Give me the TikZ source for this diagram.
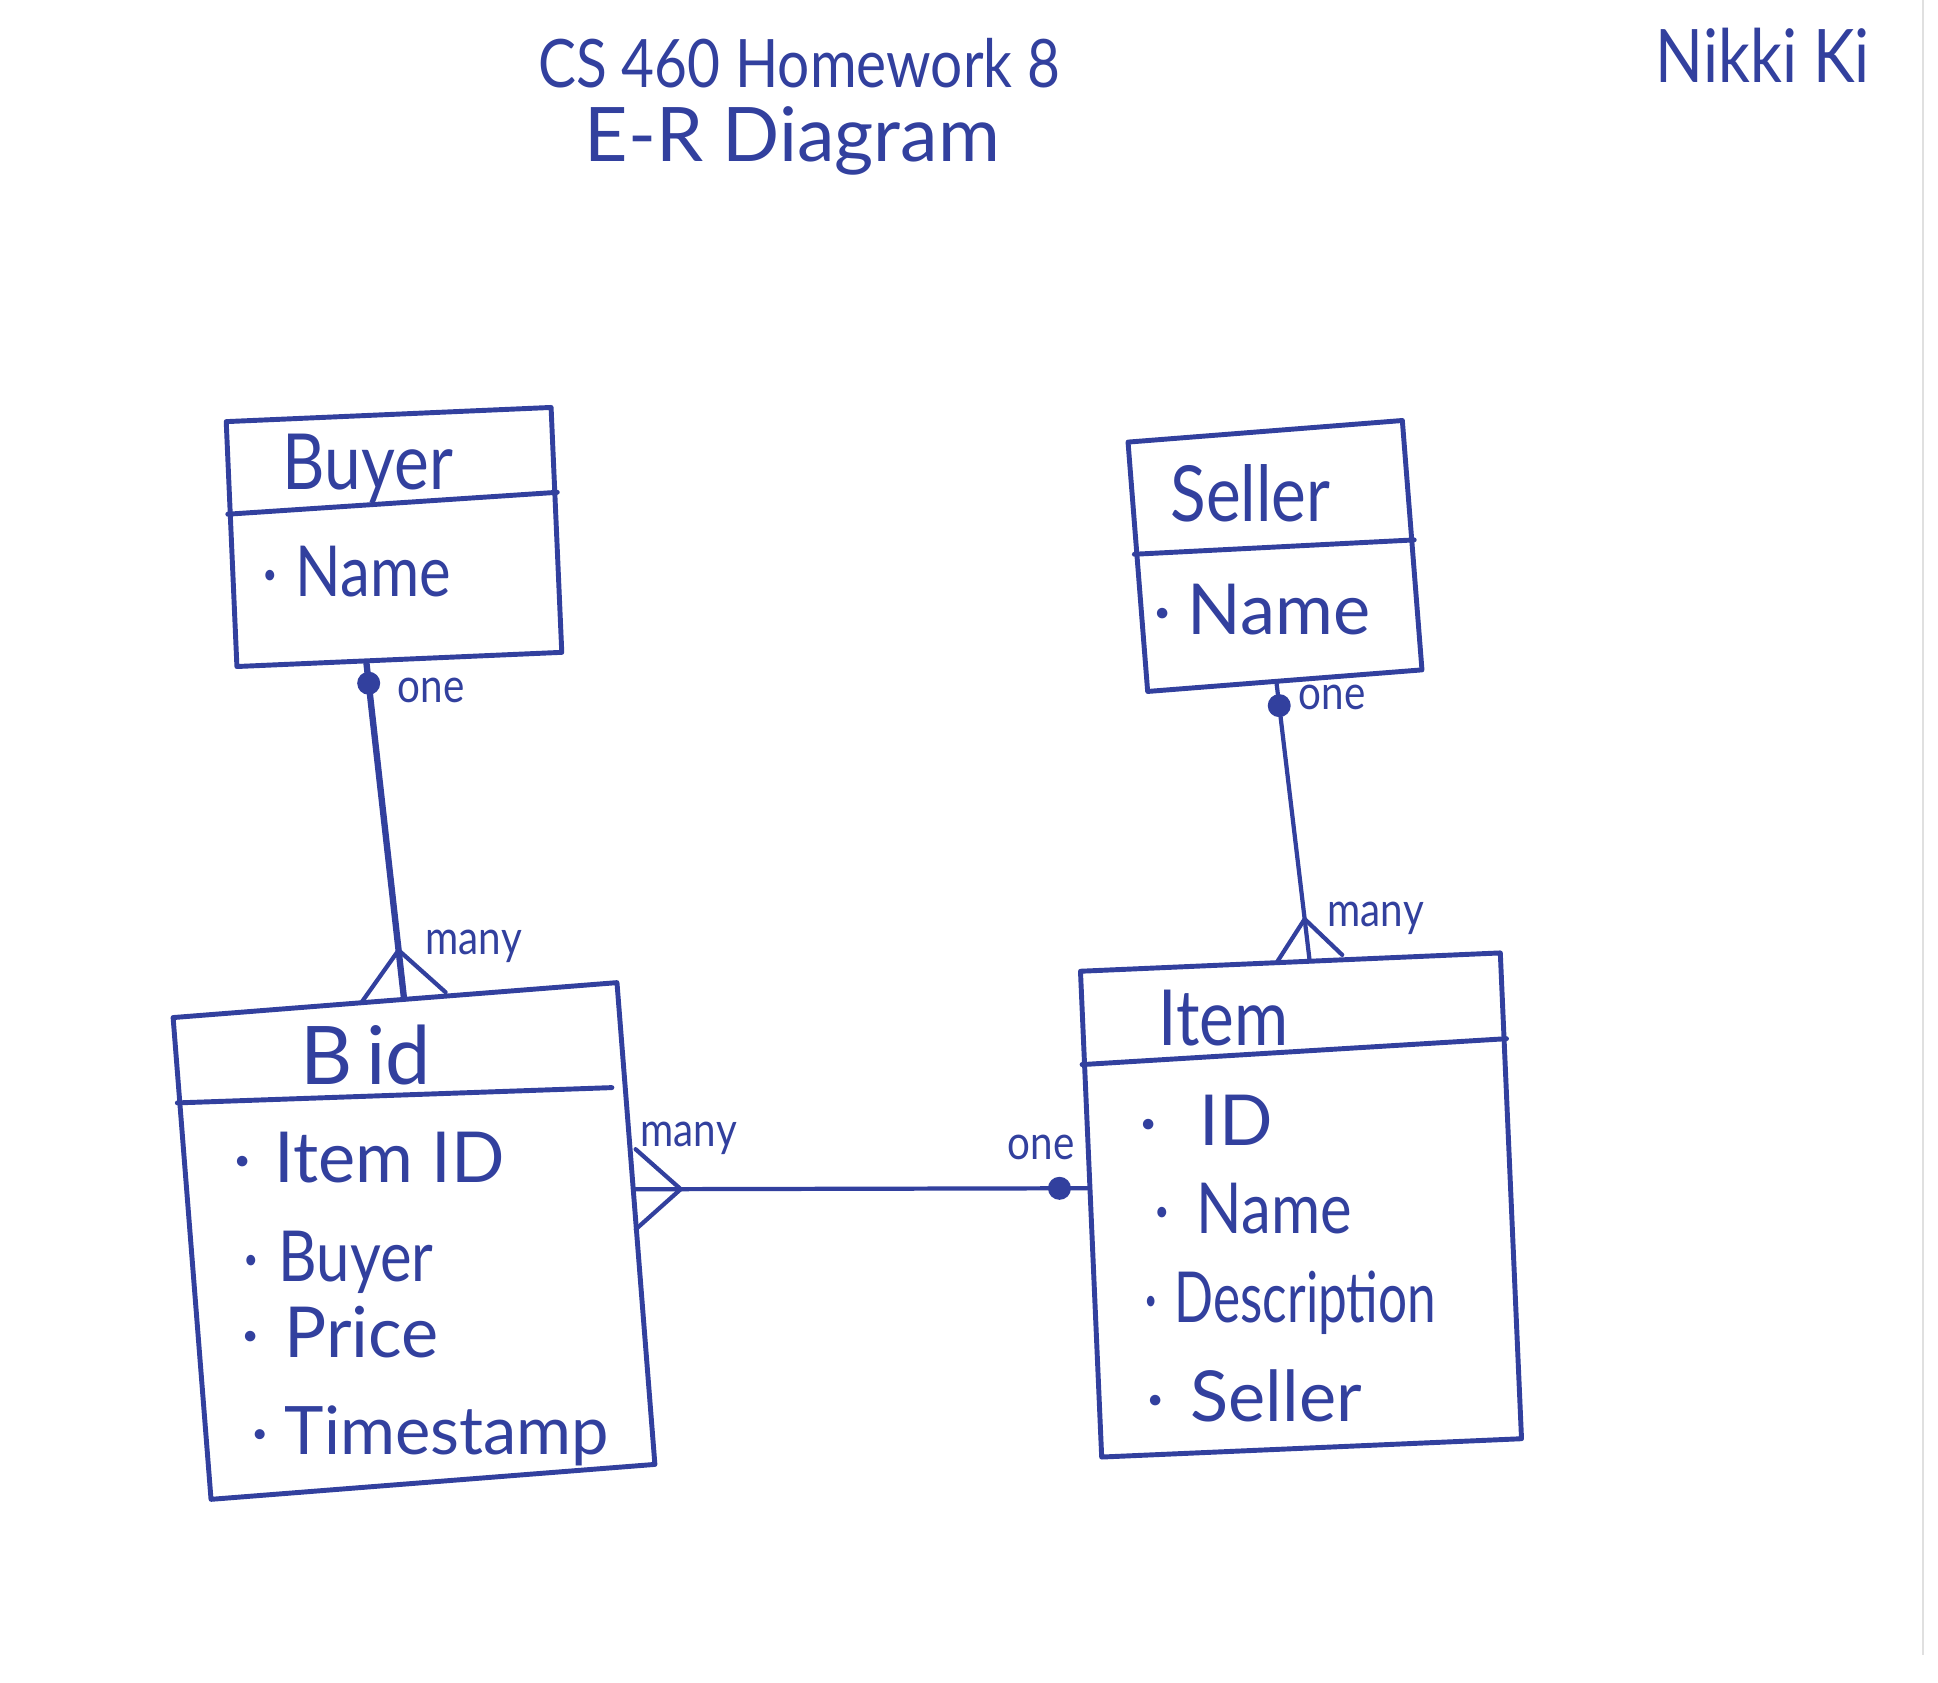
\documentclass[tikz,border=0pt]{standalone}
\usepackage{fontspec}
\setmainfont{Lato}[FakeStretch=0.85]
\newfontfamily\widefont{Lato}[FakeStretch=1.0]
\newfontfamily\narrowfont{Lato}[FakeStretch=0.73]
\usetikzlibrary{calc}
\definecolor{ink}{RGB}{50,64,158}
\newcommand{\crowfoot}[4]{\draw[conn] ($(#1)!#3!(#2)$) -- ($(#1)!#4!90:(#2)$) ($(#1)!#3!(#2)$) -- ($(#1)!#4!-90:(#2)$);}
\newcommand{\onemark}[3]{\fill[ink] ($(#1)!#3!(#2)$) circle (0.115cm);}
\newcommand{\bul}[1]{\llap{·\hspace{#1}}}
\begin{document}
\begin{tikzpicture}[x=0.01cm,y=-0.01cm,
  entity/.style={draw=ink, line width=1.4pt, rectangle, inner sep=0pt, line join=round},
  hdr/.style={draw=ink, line width=1.4pt, line cap=round},
  conn/.style={draw=ink, line width=1.2pt, line cap=round},
  ename/.style={text=ink, inner sep=0pt, anchor=base west, font=\fontsize{22}{26}\selectfont},
  attr/.style={text=ink, inner sep=0pt, anchor=base west, font=\fontsize{20}{24}\selectfont},
  wattr/.style={attr, font=\fontsize{20}{24}\widefont},
  card/.style={text=ink, inner sep=0pt, anchor=base west, font=\fontsize{13.5}{16}\selectfont},
  ttl/.style={text=ink, inner sep=0pt, anchor=base west}]
\useasboundingbox (0,0) rectangle (1938,1683);
\fill[white] (0,0) rectangle (1938,1683);
\draw[black!12, line width=0.6pt] (1923,0) -- (1923,1655);

% title and author
\node[ttl, font=\fontsize{19}{23}\selectfont] (title1) at (538,88) {CS 460 Homework 8};
\node[ttl, font=\fontsize{21.4}{25}\widefont] (title2) at (584,162) {E-R Diagram};
\node[ttl, font=\fontsize{21}{25}\selectfont] (author) at (1655,83) {Nikki Ki};

% entity outlines
\node[entity, minimum width=3.25cm, minimum height=2.45cm, rotate=2.5] (buyer) at (394,537) {};
\node[entity, minimum width=2.75cm, minimum height=2.5cm, rotate=4.5] (seller) at (1275,556) {};
\node[entity, minimum width=4.45cm, minimum height=4.83cm, rotate=4.5] (bid) at (414,1241) {};
\node[entity, minimum width=4.2cm, minimum height=4.86cm, rotate=2.5] (item) at (1301,1205) {};

% header lines
\draw[hdr] ($(buyer.north west)!0.38!(buyer.south west)$) -- ($(buyer.north east)!0.35!(buyer.south east)$);
\draw[hdr] ($(seller.north west)!0.45!(seller.south west)$) -- ($(seller.north east)!0.48!(seller.south east)$);
\draw[hdr] ($(bid.north west)!0.18!(bid.south west)$) -- ($($(bid.north west)!0.18!(bid.south west)$)!0.965!($(bid.north east)!0.22!(bid.south east)$)$);
\draw[hdr] ($(item.north west)!0.195!(item.south west)$) -- ($(item.north east)!0.18!(item.south east)$);

% entity names
\node[ename] (buyername) at (282,490) {Buyer};
\node[ename] (sellername) at (1170,522) {Seller};
\node[ename, font=\fontsize{23}{27}\widefont] (bidname) at (300,1085) {B\,id};
\node[ename] (itemname) at (1158,1046) {Item};

% attributes
\node[attr] (ba1) at (295,597) {\bul{4.9pt}Name};
\node[wattr] (sa1) at (1187,635) {\bul{4.6pt}Name};
\node[wattr] (da1) at (274,1183) {\bul{6.6pt}Item ID};
\node[attr] (da2) at (278,1282) {\bul{5.5pt}Buyer};
\node[wattr] (da3) at (284,1358) {\bul{7.2pt}Price};
\node[wattr, font=\fontsize{19}{23}\widefont] (da4) at (284,1455) {\bul{4.6pt}Timestamp};
\node[wattr] (ia1) at (1199,1146) {\bul{12pt}ID};
\node[attr] (ia2) at (1196,1234) {\bul{7.5pt}Name};
\node[attr, font=\fontsize{20}{24}\narrowfont] (ia3) at (1174,1323) {\bul{4.9pt}Description};
\node[wattr] (ia4) at (1190,1422) {\bul{7.5pt}Seller};

% connector end points on the entities
\coordinate (b1) at ($(buyer.south west)!0.40!(buyer.south east)$);
\coordinate (b2) at ($(bid.north west)!0.52!(bid.north east)$);
\coordinate (s1) at ($(seller.south west)!0.47!(seller.south east)$);
\coordinate (i1) at ($(item.north west)!0.545!(item.north east)$);
\coordinate (b3) at ($(bid.north east)!0.43!(bid.south east)$);
\coordinate (i2) at ($(item.north west)!0.447!(item.south west)$);

% Buyer (one) -- Bid (many)
\draw[conn, line width=1.8pt] (b1) -- (b2);
\onemark{b1}{b2}{0.2cm}
\crowfoot{b2}{b1}{0.47cm}{0.42cm}
\node[card] (c1) at (397,703) {one};
\node[card] (c2) at (425,955) {many};

% Seller (one) -- Item (many)
\draw[conn] (s1) -- (i1);
\onemark{s1}{i1}{0.22cm}
\crowfoot{i1}{s1}{0.4cm}{0.33cm}
\node[card] (c3) at (1298,710) {one};
\node[card] (c4) at (1327,927) {many};

% Bid (many) -- Item (one)
\draw[conn] (b3) -- (i2);
\crowfoot{b3}{i2}{0.45cm}{0.4cm}
\onemark{i2}{b3}{0.28cm}
\node[card] (c5) at (640,1147) {many};
\node[card] (c6) at (1007,1160) {one};
\end{tikzpicture}
\end{document}
